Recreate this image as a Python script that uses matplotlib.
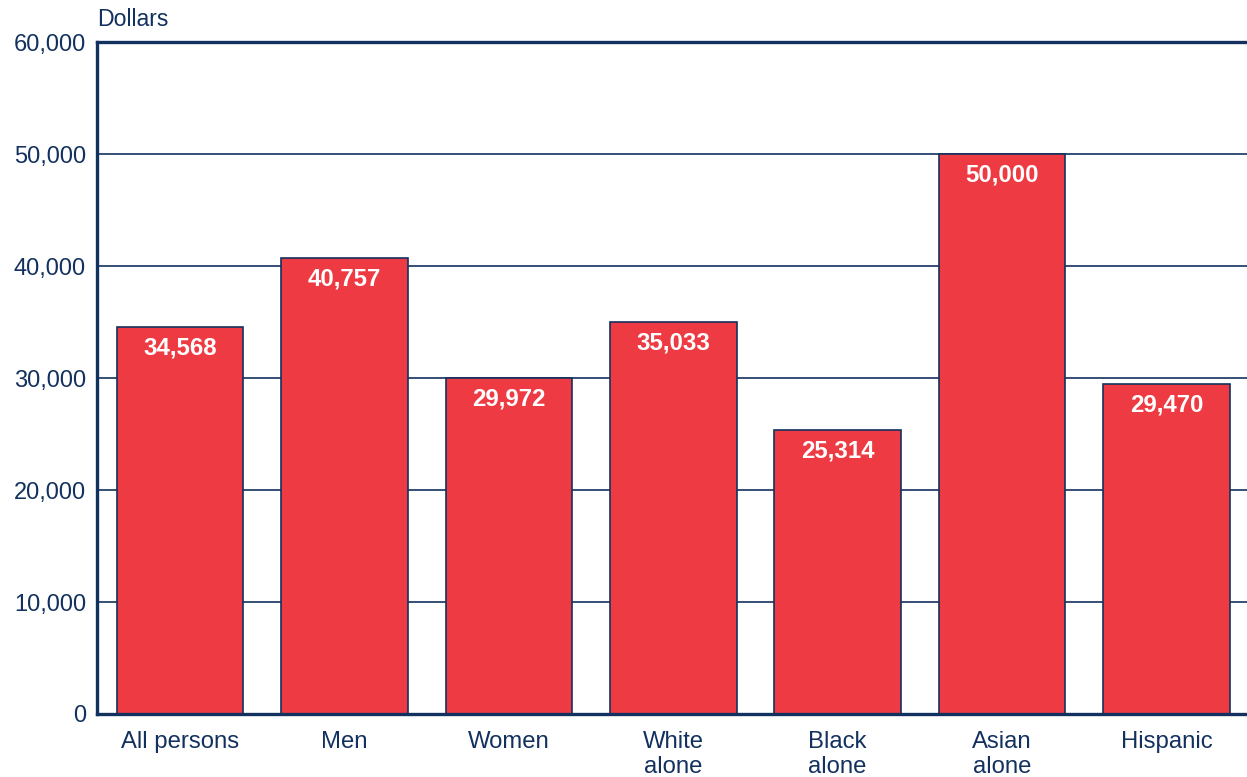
import matplotlib
matplotlib.use("Agg")
import matplotlib.pyplot as plt

categories = ["All persons", "Men", "Women", "White\nalone", "Black\nalone", "Asian\nalone", "Hispanic"]
values = [34568, 40757, 29972, 35033, 25314, 50000, 29470]
yticks = [0, 10000, 20000, 30000, 40000, 50000, 60000]

navy = "#13315F"
red = "#EE3B43"

plt.rcParams['font.family'] = ['Liberation Sans', 'DejaVu Sans']

fig = plt.figure(figsize=(12.47, 7.77), dpi=100)
ax = fig.add_axes([97/1247, 1-714/777, 1-97/1247, (714-42)/777])

x = list(range(len(categories)))
ax.set_ylim(0, 60000)
ax.set_xlim(-0.505, 6.49)
ax.set_yticks(yticks)
ax.set_yticklabels([f"{v:,}" for v in yticks])
for v in yticks[1:-1]:
    ax.axhline(v, color=navy, lw=1.2, zorder=1)
ax.axhline(60000, color=navy, lw=2.4, zorder=1, clip_on=False)

bars = ax.bar(x, values, width=0.77, color=red, edgecolor=navy, linewidth=1.2, zorder=2)
for xi, v in zip(x, values):
    ax.annotate(f"{v:,}", (xi, v), xytext=(0, -21), textcoords="offset pixels",
                ha="center", va="center", color="white", fontsize=17.3, fontweight="bold", zorder=3)

ax.set_xticks(x)
ax.set_xticklabels(categories, fontsize=17.2, color=navy, linespacing=1.22, va="top")
ax.tick_params(axis="y", labelsize=17, colors=navy, length=0, pad=8)
ax.tick_params(axis="x", length=0, pad=12, colors=navy)
for s in ["top", "right"]:
    ax.spines[s].set_visible(False)
for s in ["left", "bottom"]:
    ax.spines[s].set_color(navy)
    ax.spines[s].set_linewidth(2.4)
    ax.spines[s].set_zorder(4)

ax.text(0, 1.016, "Dollars", transform=ax.transAxes, ha="left", va="bottom", fontsize=16.6, color=navy)

fig.savefig("out.png", dpi=100)
